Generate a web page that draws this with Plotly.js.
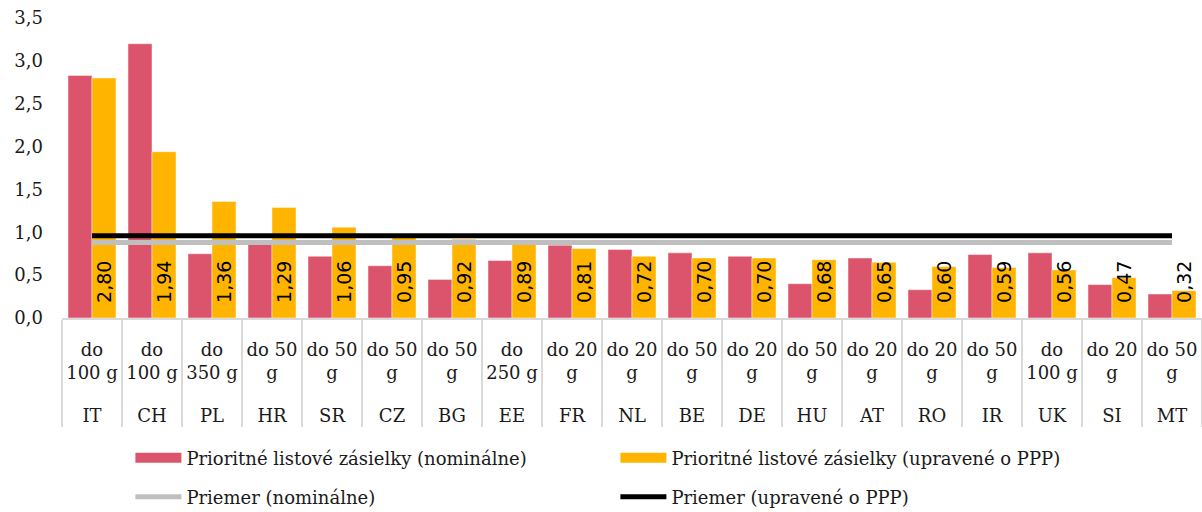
<!DOCTYPE html>
<html>
<head>
<meta charset="utf-8">
<script src="https://cdn.plot.ly/plotly-3.0.1.min.js"></script>
<style>html,body{margin:0;padding:0;background:#fff;}#chart{width:1202px;height:512px;}</style>
</head>
<body>
<div id="chart"></div>
<script>
const countries = ["IT","CH","PL","HR","SR","CZ","BG","EE","FR","NL","BE","DE","HU","AT","RO","IR","UK","SI","MT"];
const weights = ["do<br>100 g","do<br>100 g","do<br>350 g","do 50<br>g","do 50<br>g","do 50<br>g","do 50<br>g","do<br>250 g","do 20<br>g","do 20<br>g","do 50<br>g","do 20<br>g","do 50<br>g","do 20<br>g","do 20<br>g","do 50<br>g","do<br>100 g","do 20<br>g","do 50<br>g"];
const nominal = [2.83,3.20,0.75,0.87,0.72,0.61,0.45,0.67,0.85,0.80,0.76,0.72,0.40,0.70,0.33,0.74,0.76,0.39,0.28];
const ppp = [2.80,1.94,1.36,1.29,1.06,0.95,0.92,0.89,0.81,0.72,0.70,0.70,0.68,0.65,0.60,0.59,0.56,0.47,0.32];
const avgNominal = [0.88,0.88,0.88,0.88,0.88,0.88,0.88,0.88,0.88,0.88,0.88,0.88,0.88,0.88,0.88,0.88,0.88,0.88,0.88];
const avgPPP = [0.96,0.96,0.96,0.96,0.96,0.96,0.96,0.96,0.96,0.96,0.96,0.96,0.96,0.96,0.96,0.96,0.96,0.96,0.96];
const names = ["Prioritné listové zásielky (nominálne)","Prioritné listové zásielky (upravené o PPP)","Priemer (nominálne)","Priemer (upravené o PPP)"];

// inner (weight) labels get a trailing blank line so the country row sits lower, as in the reference
const X = [countries, weights.map(w => w + "<br><span style='font-size:62px'>&nbsp;</span>")];
const serif = "DejaVu Serif, serif";
const txt = "#1a1a1a";
const pink = "#DC546C", orange = "#FFB400";

const traces = [
  {type:"bar", x:X, y:nominal, name:names[0], showlegend:false,
   marker:{color:pink, line:{color:"rgba(255,255,255,0.45)", width:1}}, hoverinfo:"y"},
  {type:"bar", x:X, y:ppp, name:names[1], showlegend:false,
   marker:{color:orange, line:{color:"rgba(255,255,255,0.45)", width:1}},
   texttemplate:"\u00a0\u00a0%{y:.2f}", textposition:"inside", insidetextanchor:"start",
   textangle:-90, constraintext:"none", cliponaxis:false,
   insidetextfont:{family:"DejaVu Sans, sans-serif", size:19, color:"#000"}, hoverinfo:"y"},
  {type:"scatter", mode:"lines", x:X, y:avgNominal, name:names[2], legend:"legend2",
   line:{color:"#BFBFBF", width:5}},
  {type:"scatter", mode:"lines", x:X, y:avgPPP, name:names[3], legend:"legend2",
   line:{color:"#000000", width:5}},
  // legend keys for the two bar series (wide boxes, as in the reference)
  {type:"scatter", mode:"lines", x:[null], y:[null], name:names[0], legend:"legend",
   line:{color:pink, width:12}, hoverinfo:"skip"},
  {type:"scatter", mode:"lines", x:[null], y:[null], name:names[1], legend:"legend",
   line:{color:orange, width:12}, hoverinfo:"skip"}
];

const layout = {
  width:1202, height:512,
  margin:{l:62, r:0, t:18, b:194, autoexpand:false},
  paper_bgcolor:"#fff", plot_bgcolor:"#fff",
  separators:", ",
  bargap:0.2, bargroupgap:0, barmode:"group",
  font:{family:serif, size:18, color:txt},
  xaxis:{type:"multicategory", showline:true, linecolor:"#D9D9D9", linewidth:2,
    showdividers:true, dividercolor:"#D9D9D9", dividerwidth:2, ticks:"",
    ticklabelstandoff:14, automargin:false,
    tickfont:{family:serif, size:18, color:txt}, showgrid:false, zeroline:false},
  yaxis:{range:[0,3.5], dtick:0.5, tickformat:".1f", showgrid:false, zeroline:false,
    showline:false, ticks:"", ticklabelstandoff:18, automargin:false,
    tickfont:{family:serif, size:18, color:txt}},
  legend:{orientation:"h", x:0.06, xanchor:"left", y:-0.467, yanchor:"middle",
    entrywidth:424, itemwidth:46, font:{family:serif, size:18, color:txt},
    bgcolor:"rgba(0,0,0,0)", traceorder:"normal"},
  legend2:{orientation:"h", x:0.06, xanchor:"left", y:-0.597, yanchor:"middle",
    entrywidth:424, itemwidth:46, font:{family:serif, size:18, color:txt},
    bgcolor:"rgba(0,0,0,0)", traceorder:"normal"},
  showlegend:true
};

Plotly.newPlot("chart", traces, layout, {displayModeBar:false, staticPlot:true});
</script>
</body>
</html>
